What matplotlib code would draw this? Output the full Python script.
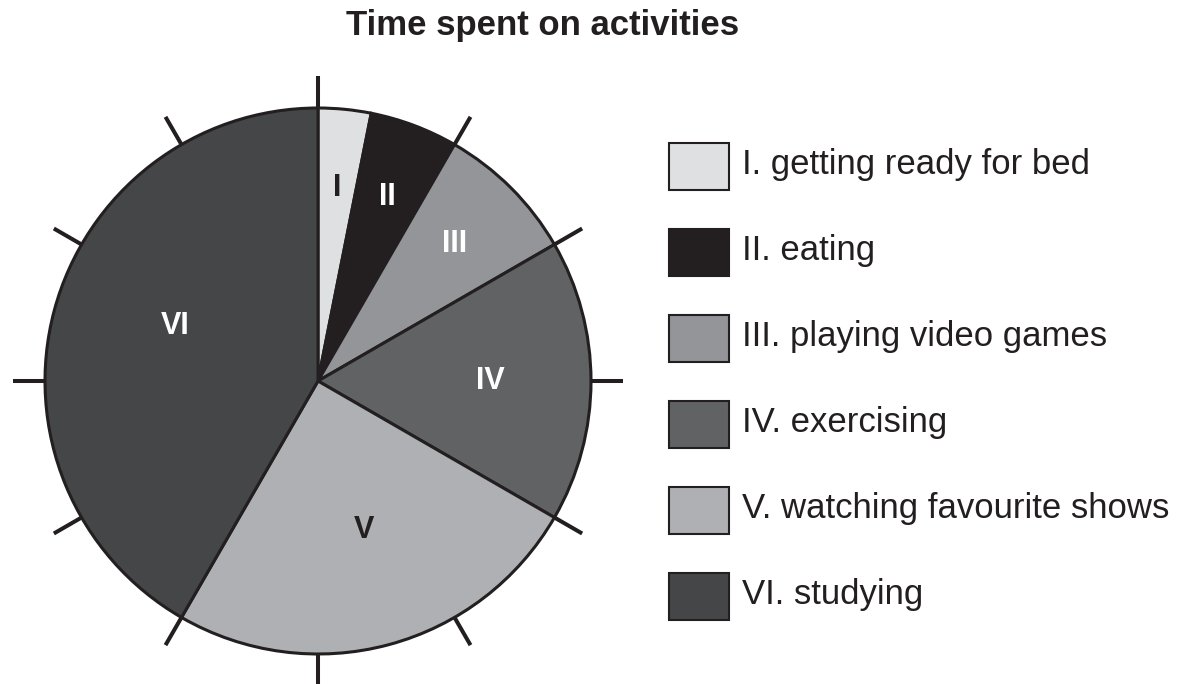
import numpy as np
import matplotlib
matplotlib.use('Agg')
import matplotlib.pyplot as plt
from matplotlib.patches import Patch
from matplotlib.transforms import Affine2D

plt.rcParams['font.family'] = ['Liberation Sans', 'DejaVu Sans']

numerals = ['I', 'II', 'III', 'IV', 'V', 'VI']
activities = ['getting ready for bed', 'eating', 'playing video games',
              'exercising', 'watching favourite shows', 'studying']
hours = [0.75, 1.25, 2, 4, 6, 10]

colors = ['#dfe0e2', '#231f20', '#939598', '#616264', '#aeb0b3', '#454648']
label_colors = ['#231f20', 'white', 'white', 'white', '#231f20', 'white']
# label placement: fraction of radius, angular nudge (deg)
label_dist = [0.71, 0.72, 0.71, 0.63, 0.57, 0.56]
label_turn = [0, 0, 0, 0, 2, -6]

W, H = 1186, 684
fig = plt.figure(figsize=(W / 100, H / 100), dpi=100)
ax = fig.add_axes([0, 0, 1, 1])
ax.set_aspect('equal')
ax.axis('off')

cx, cy, r = 318, 303, 273
wedges, _ = ax.pie(hours, colors=colors, center=(cx, cy), radius=r,
                   startangle=90, counterclock=False,
                   wedgeprops=dict(edgecolor='#231f20', linewidth=2.2))
ax.set_xlim(0, W)
ax.set_ylim(0, H)

# clock ticks every 30 degrees
for a in np.deg2rad(np.arange(0, 360, 30)):
    ax.plot([cx + r * np.cos(a), cx + (r + 32) * np.cos(a)],
            [cy + r * np.sin(a), cy + (r + 32) * np.sin(a)],
            color='#231f20', lw=2.9, solid_capstyle='butt')

# slice labels
for w, lab, c, d, t in zip(wedges, numerals, label_colors, label_dist, label_turn):
    mid = np.deg2rad((w.theta1 + w.theta2) / 2 + t)
    ax.text(cx + d * r * np.cos(mid), cy + d * r * np.sin(mid), lab,
            ha='center', va='center', color=c, fontsize=22, fontweight='bold')

handles = [Patch(facecolor=c, edgecolor='#231f20', linewidth=1.5) for c in colors]
labels = [f'{n}. {a}' for n, a in zip(numerals, activities)]
leg = fig.legend(handles, labels, loc='upper left',
                 bbox_to_anchor=(669 / W, 1 - 143 / H), frameon=False,
                 fontsize=25, handlelength=1.73, handleheight=1.71,
                 handletextpad=0.37, labelspacing=1.12, borderpad=0,
                 borderaxespad=0, labelcolor='#231f20')
# nudge legend text up a little relative to the swatches
for t in leg.get_texts():
    t.set_transform(t.get_transform() + Affine2D().translate(0, 4))

fig.text(543 / W, 1 - 35 / H, 'Time spent on activities', ha='center',
         va='baseline', fontsize=25, fontweight='bold', color='#231f20')

fig.savefig('out.png', dpi=100)
